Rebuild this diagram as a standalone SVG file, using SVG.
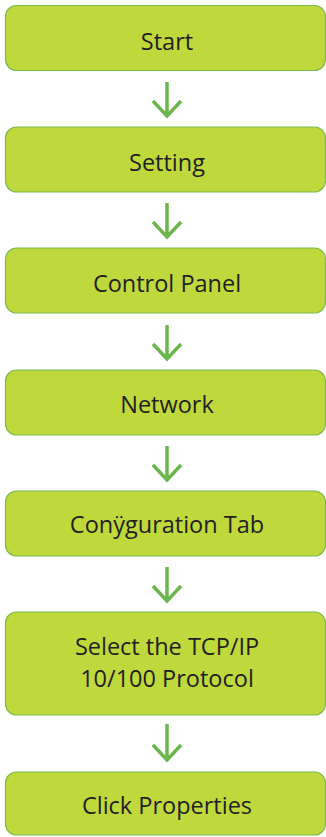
<svg xmlns="http://www.w3.org/2000/svg" width="326" height="837" viewBox="0 0 326 837">
<style>
.box{fill:#bfd83b;stroke:#7dbb4f;stroke-width:1.2}
.t{font-family:"Open Sans","Noto Sans",sans-serif;font-size:23.5px;fill:#231f20;text-anchor:middle}
.arr{fill:none;stroke:#6bb64c;stroke-width:3.5}
</style>
<g id="n1"><rect class="box" x="5.5" y="5.5" width="320" height="65" rx="11"/><text class="t" x="167" y="49.5">Start</text></g>
<g id="n2"><rect class="box" x="5.5" y="127" width="320" height="65" rx="11"/><text class="t" x="167" y="170.5">Setting</text></g>
<g id="n3"><rect class="box" x="5.5" y="248" width="320" height="65" rx="11"/><text class="t" x="167" y="291.5">Control Panel</text></g>
<g id="n4"><rect class="box" x="5.5" y="370" width="320" height="65" rx="11"/><text class="t" x="167" y="412.5">Network</text></g>
<g id="n5"><rect class="box" x="5.5" y="491" width="320" height="65" rx="11"/><text class="t" x="167" y="532.5">Conÿguration Tab</text></g>
<g id="n6"><rect class="box" x="5.5" y="612" width="320" height="103" rx="11"/><text class="t" x="167" y="654.5">Select the TCP/IP</text><text class="t" x="167" y="686.5">10/100 Protocol</text></g>
<g id="n7"><rect class="box" x="5.5" y="772" width="320" height="63" rx="11"/><text class="t" x="167" y="813.5">Click Properties</text></g>
<g id="connectors">
<path class="arr" d="M167 82V116M153 101L167 116L181 101"/>
<path class="arr" d="M167 203V237M153 222L167 237L181 222"/>
<path class="arr" d="M167 325V359M153 344L167 359L181 344"/>
<path class="arr" d="M167 446V480M153 465L167 480L181 465"/>
<path class="arr" d="M167 567V601M153 586L167 601L181 586"/>
<path class="arr" d="M167 724V760M153 745L167 760L181 745"/>
</g>
</svg>
